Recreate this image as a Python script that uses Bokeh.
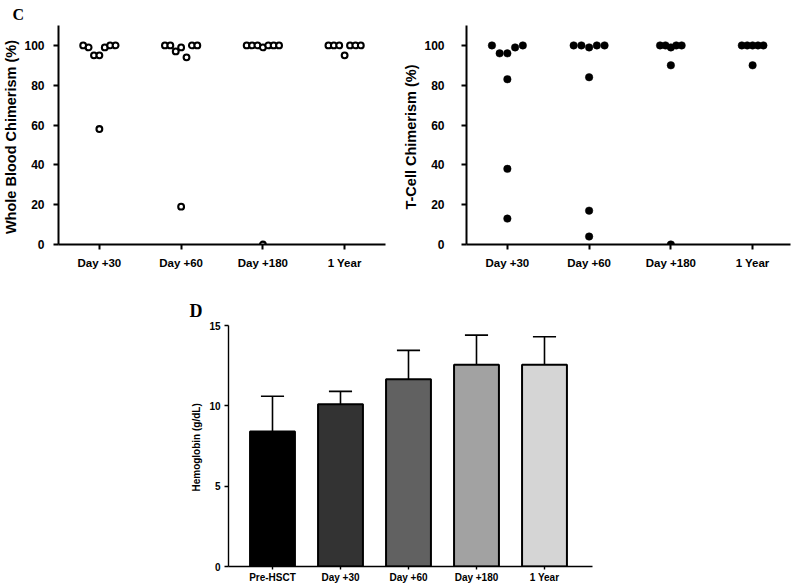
from bokeh.plotting import figure
from bokeh.models import FixedTicker, Range1d, Title
from bokeh.layouts import column, row
from bokeh.embed import file_html
from bokeh.resources import INLINE

# ---------------- data ----------------
timepoints = ["Day +30", "Day +60", "Day +180", "1 Year"]

wb_day30 = [100, 99, 95, 95, 99, 100, 100, 58]
wb_day60 = [100, 100, 97, 99, 94, 100, 100, 19]
wb_day180 = [100, 100, 100, 99, 100, 100, 100, 0]
wb_1year = [100, 100, 100, 95, 100, 100, 100]

tc_day30 = [100, 96, 96, 99, 100, 83, 38, 13]
tc_day60 = [100, 100, 99, 100, 100, 84, 17, 4]
tc_day180 = [100, 100, 99, 100, 100, 90, 0]
tc_1year = [100, 100, 100, 100, 100, 90]

hb_labels = ["Pre-HSCT", "Day +30", "Day +60", "Day +180", "1 Year"]
hb_mean = [8.4, 10.1, 11.65, 12.55, 12.55]
hb_sd = [2.2, 0.8, 1.8, 1.85, 1.75]

chim_ticks = [0, 20, 40, 60, 80, 100]
hb_ticks = [0, 5, 10, 15]

# ---------------- styles ----------------
FONT = "Liberation Sans"
SERIF = "Liberation Serif"
bar_colors = ["#000000", "#333333", "#616161", "#a2a2a2", "#d5d5d5"]
wb_steps = [0.066, 0.066, 0.066, 0.066]
tc_steps = [0.0945, 0.0945, 0.066, 0.066]


def swarm(groups, steps):
    """Spread the near-maximum values of each group in a centred row."""
    xs, ys = [], []
    for i, (vals, step) in enumerate(zip(groups, steps)):
        top = max(vals)
        n = sum(1 for v in vals if v >= top - 7)
        k = 0
        for v in vals:
            if v >= top - 7:
                xs.append(i + 0.5 + (k - (n - 1) / 2) * step)
                k += 1
            else:
                xs.append(i + 0.5)
            ys.append(v)
    return xs, ys


def style_axes(p, tick_size, label_size, line_w, tick_out):
    for ax in (p.xaxis[0], p.yaxis[0]):
        ax.axis_line_width = line_w
        ax.major_tick_line_width = line_w
        ax.major_tick_in = 0
        ax.major_tick_out = tick_out
        ax.minor_tick_line_color = None
        ax.major_label_text_font = FONT
        ax.major_label_text_font_style = "bold"
        ax.major_label_text_color = "black"
        ax.axis_label_text_font = FONT
        ax.axis_label_text_font_style = "bold"
        ax.axis_label_text_color = "black"
        ax.axis_line_color = "black"
        ax.major_tick_line_color = "black"
    p.xaxis.major_label_text_font_size = label_size
    p.yaxis.major_label_text_font_size = tick_size
    p.xgrid.visible = False
    p.ygrid.visible = False
    p.outline_line_color = None


def chim_panel(groups, steps, width, bl, br, xend, ylabel, y_standoff, t_standoff, filled, title):
    p = figure(width=width, height=272, x_range=Range1d(0, xend), y_range=Range1d(0, 110),
               output_backend="svg", toolbar_location=None, title=title,
               min_border_left=bl, min_border_right=br, min_border_top=25, min_border_bottom=28)
    style_axes(p, "12px", "11.5px", 2, 5)
    p.xaxis.ticker = FixedTicker(ticks=[i + 0.5 for i in range(len(timepoints))])
    p.xaxis.major_label_overrides = {i + 0.5: t for i, t in enumerate(timepoints)}
    p.xaxis.major_label_standoff = 7
    p.yaxis.ticker = FixedTicker(ticks=chim_ticks)
    p.yaxis.major_label_standoff = y_standoff
    p.yaxis.axis_label = ylabel
    p.yaxis.axis_label_text_font_size = "14.5px"
    p.yaxis.axis_label_standoff = t_standoff
    xs, ys = swarm(groups, steps)
    if filled:
        p.scatter(xs, ys, size=7.5, marker="circle", fill_color="black", line_color="black", line_width=0.5)
    else:
        p.scatter(xs, ys, size=5.8, marker="circle", fill_color="white", line_color="black", line_width=2.1)
    return p


title_c = Title(text="C", align="left", offset=-46, standoff=6, text_font=SERIF,
                text_font_style="bold", text_font_size="16px", text_color="black")
p1 = chim_panel([wb_day30, wb_day60, wb_day180, wb_1year], wb_steps, 400, 53, 15, 4.0,
                "Whole Blood Chimerism  (%)", 9, 2, False, title_c)
p2 = chim_panel([tc_day30, tc_day60, tc_day180, tc_1year], tc_steps, 395, 63, 5, 327 / 82.5,
                "T-Cell  Chimerism (%)", 17, 2, True, None)

# ---------------- hemoglobin panel ----------------
idx = list(range(len(hb_labels)))
tops = [m + s for m, s in zip(hb_mean, hb_sd)]

title_d = Title(text="D", align="left", offset=-39, standoff=10, text_font=SERIF,
                text_font_style="bold", text_font_size="18px", text_color="black")
p3 = figure(width=795, height=313, x_range=Range1d(-0.647, 4.706), y_range=Range1d(0, 15),
            output_backend="svg", toolbar_location=None, title=title_d,
            min_border_left=228, min_border_right=203, min_border_top=53, min_border_bottom=17)
style_axes(p3, "10px", "10px", 1.4, 4)
p3.xaxis.major_tick_out = 3
p3.xaxis.ticker = FixedTicker(ticks=idx)
p3.xaxis.major_label_overrides = {i: t for i, t in enumerate(hb_labels)}
p3.xaxis.major_label_standoff = 2
p3.yaxis.ticker = FixedTicker(ticks=hb_ticks)
p3.yaxis.major_label_standoff = 4
p3.yaxis.axis_label = "Hemoglobin  (g/dL)"
p3.yaxis.axis_label_text_font_size = "10px"
p3.yaxis.axis_label_standoff = 4

p3.segment(x0=idx, y0=hb_mean, x1=idx, y1=tops, line_color="black", line_width=1.6)
p3.segment(x0=[i - 0.17 for i in idx], y0=tops, x1=[i + 0.17 for i in idx], y1=tops,
           line_color="black", line_width=1.6)
p3.vbar(x=idx, top=hb_mean, bottom=0, width=0.66, fill_color=bar_colors,
        line_color="black", line_width=2)

layout = column(row(p1, p2), p3)
open("out.html", "w").write(file_html(layout, INLINE))
